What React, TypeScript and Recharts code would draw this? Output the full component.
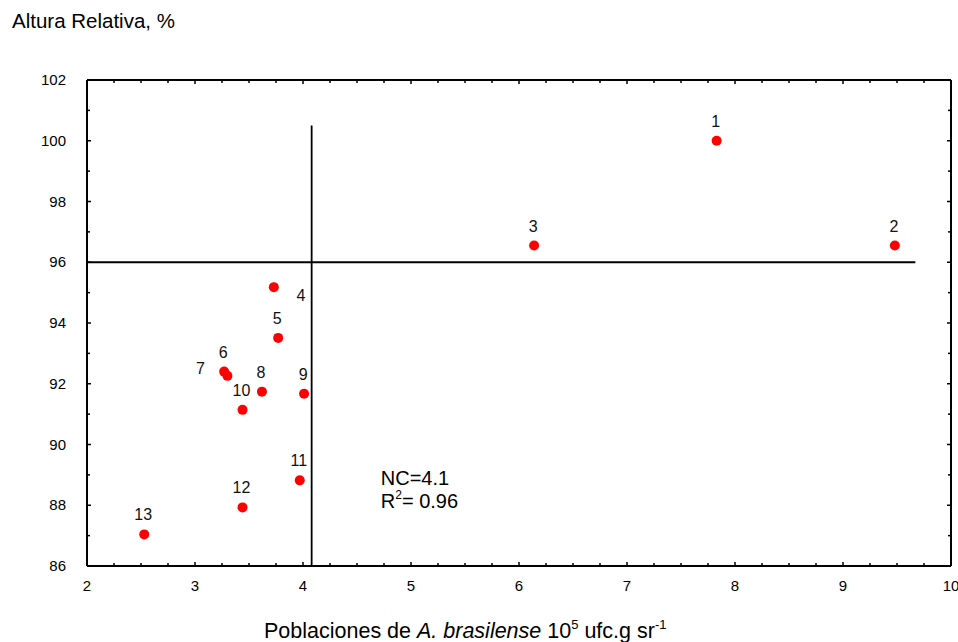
import {
  ReferenceDot,
  ReferenceLine,
  Scatter,
  ScatterChart,
  XAxis,
  YAxis,
} from "recharts";

// point number, population (10^5 ufc.g sr-1), relative height (%)
const pointIds = [1, 2, 3, 4, 5, 6, 7, 8, 9, 10, 11, 12, 13];
const poblacion = [7.83, 9.48, 6.14, 3.73, 3.77, 3.27, 3.3, 3.62, 4.01, 3.44, 3.97, 3.44, 2.53];
const alturaRel = [100.0, 96.55, 96.55, 95.18, 93.51, 92.4, 92.26, 91.74, 91.67, 91.14, 88.82, 87.93, 87.04];

// critical level (Cate-Nelson split)
const nivelCritico = 4.08;
const alturaCritica = 96;
const verticalTop = 100.5;
const horizontalEnd = 9.67;

const xTicks = [
  2, 2.25, 2.5, 2.75, 3, 3.25, 3.5, 3.75, 4, 4.25, 4.5, 4.75, 5, 5.25, 5.5, 5.75,
  6, 6.25, 6.5, 6.75, 7, 7.25, 7.5, 7.75, 8, 8.25, 8.5, 8.75, 9, 9.25, 9.5, 9.75, 10,
];
const yTicks = [86, 87, 88, 89, 90, 91, 92, 93, 94, 95, 96, 97, 98, 99, 100, 101, 102];

const data = pointIds.map((id, i) => ({ id, x: poblacion[i], y: alturaRel[i] }));

const FONT = "Arial, 'Liberation Sans', Helvetica, sans-serif";
const INK = "#000";

// label nudges for the crowded points; everything else sits above its dot
const labelNudge: Record<number, [number, number]> = {
  4: [27, 14],
  7: [-27, -2],
};

const isMajor = (v: number) => Math.abs(v - Math.round(v)) < 1e-6;

function BottomTick({ x, y, payload }: any) {
  const v = payload.value;
  const major = isMajor(v);
  return (
    <g>
      <line x1={x} y1={y} x2={x} y2={y - (major ? 4 : 3)} stroke={INK} strokeWidth={1.5} />
      {major && (
        <text x={x} y={y + 25} textAnchor="middle" fontSize={15} fontFamily={FONT} fill={INK}>
          {v}
        </text>
      )}
    </g>
  );
}

function TopTick({ x, y, payload }: any) {
  const major = isMajor(payload.value);
  return <line x1={x} y1={y} x2={x} y2={y + (major ? 4 : 3)} stroke={INK} strokeWidth={1.5} />;
}

function LeftTick({ x, y, payload }: any) {
  const v = payload.value;
  const major = v % 2 === 0;
  return (
    <g>
      <line x1={x} y1={y} x2={x + (major ? 4 : 3)} y2={y} stroke={INK} strokeWidth={1.5} />
      {major && (
        <text x={x - 21} y={y + 5} textAnchor="end" fontSize={15} fontFamily={FONT} fill={INK}>
          {v}
        </text>
      )}
    </g>
  );
}

function RightTick({ x, y, payload }: any) {
  const major = payload.value % 2 === 0;
  return <line x1={x} y1={y} x2={x - (major ? 4 : 3)} y2={y} stroke={INK} strokeWidth={1.5} />;
}

function PointShape({ cx, cy, payload }: any) {
  const [dx, dy] = labelNudge[payload.id] ?? [-1, -14];
  return (
    <g>
      <circle cx={cx} cy={cy} r={5} fill="#ff0000" />
      <text
        x={cx + dx}
        y={cy + dy}
        textAnchor="middle"
        fontSize={16}
        fontFamily={FONT}
        fill="#111"
      >
        {payload.id}
      </text>
    </g>
  );
}

function NoMark() {
  return <g />;
}

function NcNote({ viewBox }: any) {
  const { x, y } = viewBox;
  return (
    <text x={x} y={y} fontSize={20} fontFamily={FONT} fill={INK}>
      <tspan x={x}>NC=4.1</tspan>
      <tspan x={x} dy={23}>R</tspan>
      <tspan fontSize={12} dy={-9}>2</tspan>
      <tspan dy={9}>= 0.96</tspan>
    </text>
  );
}

function XTitle() {
  return (
    <text x={264} y={638} fontSize={21.5} fontFamily={FONT} fill={INK}>
      <tspan>Poblaciones de </tspan>
      <tspan fontStyle="italic">A. brasilense</tspan>
      <tspan> 10</tspan>
      <tspan fontSize={13} dy={-9}>5</tspan>
      <tspan dy={9}> ufc.g sr</tspan>
      <tspan fontSize={13} dy={-9}>-1</tspan>
    </text>
  );
}

function YTitle() {
  return (
    <text x={12} y={28} fontSize={20.5} fontFamily={FONT} fill={INK}>
      Altura Relativa, %
    </text>
  );
}

export default function App() {
  return (
    <div style={{ position: "absolute", left: 0, top: 0, width: 958, height: 642, background: "#fff" }}>
      <ScatterChart width={958} height={642} margin={{ top: 79, right: 6, bottom: 36, left: 0 }}>
        <XAxis
          xAxisId="b"
          type="number"
          dataKey="x"
          domain={[2, 10]}
          ticks={xTicks}
          interval={0}
          height={40}
          tickSize={0}
          tickMargin={0}
          tick={<BottomTick />}
          axisLine={{ stroke: INK, strokeWidth: 2 }}
          label={{ content: <XTitle /> }}
        />
        <XAxis
          xAxisId="t"
          orientation="top"
          type="number"
          dataKey="x"
          domain={[2, 10]}
          ticks={xTicks}
          interval={0}
          height={1}
          tickSize={0}
          tickMargin={0}
          tick={<TopTick />}
          axisLine={{ stroke: INK, strokeWidth: 2 }}
        />
        <YAxis
          yAxisId="l"
          type="number"
          dataKey="y"
          domain={[86, 102]}
          ticks={yTicks}
          interval={0}
          width={87}
          tickSize={0}
          tickMargin={0}
          tick={<LeftTick />}
          axisLine={{ stroke: INK, strokeWidth: 2 }}
          label={{ content: <YTitle /> }}
        />
        <YAxis
          yAxisId="r"
          orientation="right"
          type="number"
          dataKey="y"
          domain={[86, 102]}
          ticks={yTicks}
          interval={0}
          width={1}
          tickSize={0}
          tickMargin={0}
          tick={<RightTick />}
          axisLine={{ stroke: INK, strokeWidth: 2 }}
        />
        <ReferenceLine
          xAxisId="b"
          yAxisId="l"
          segment={[
            { x: nivelCritico, y: 86 },
            { x: nivelCritico, y: verticalTop },
          ]}
          stroke={INK}
          strokeWidth={1.8}
        />
        <ReferenceLine
          xAxisId="b"
          yAxisId="l"
          segment={[
            { x: 2, y: alturaCritica },
            { x: horizontalEnd, y: alturaCritica },
          ]}
          stroke={INK}
          strokeWidth={1.8}
        />
        <ReferenceDot
          xAxisId="b"
          yAxisId="l"
          x={4.72}
          y={88.68}
          r={0}
          stroke="none"
          label={{ content: <NcNote /> }}
        />
        {/* keeps the mirrored top/right axes bound to the same data */}
        <Scatter xAxisId="t" yAxisId="r" data={data} shape={<NoMark />} isAnimationActive={false} />
        <Scatter
          xAxisId="b"
          yAxisId="l"
          data={data}
          shape={<PointShape />}
          isAnimationActive={false}
        />
      </ScatterChart>
    </div>
  );
}
